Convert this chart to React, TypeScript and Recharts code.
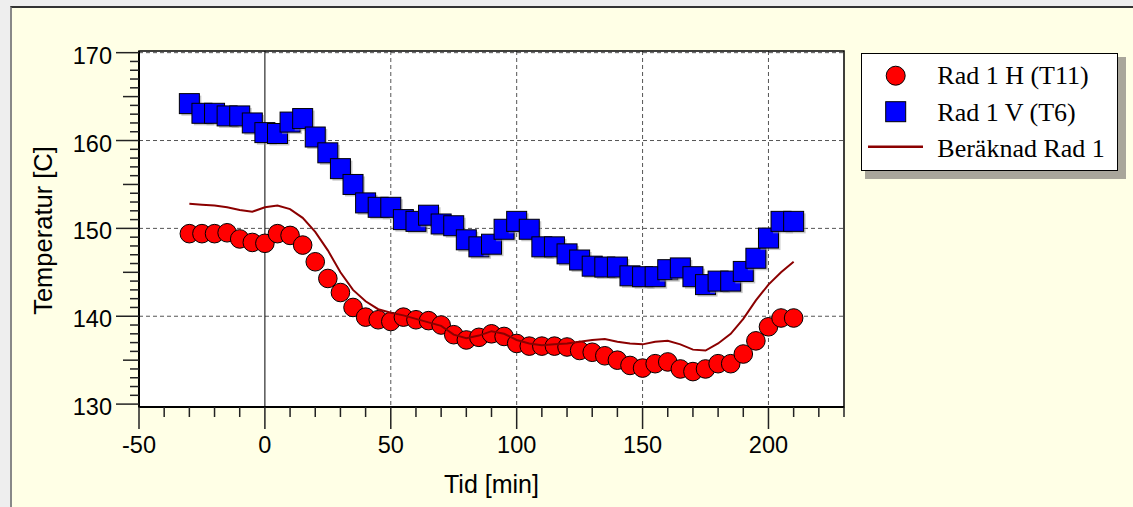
import React from 'react';
import { ComposedChart, Scatter, Line, XAxis, YAxis, CartesianGrid, ReferenceArea, Label } from 'recharts';

// sample times [min]
const times = [
  -30, -25, -20, -15, -10, -5, 0, 5, 10, 15, 20, 25, 30, 35, 40, 45, 50, 55, 60, 65, 70, 75, 80, 85, 90,
  95, 100, 105, 110, 115, 120, 125, 130, 135, 140, 145, 150, 155, 160, 165, 170, 175, 180, 185, 190, 195,
  200, 205, 210,
];

// Rad 1 H (T11)
const radH = [
  149.4, 149.4, 149.4, 149.5, 148.8, 148.4, 148.3, 149.4, 149.2, 148.1, 146.2, 144.3, 142.7, 141.0, 139.9,
  139.6, 139.4, 139.9, 139.6, 139.5, 139.0, 137.9, 137.3, 137.6, 138.0, 137.7, 136.9, 136.6, 136.6, 136.6,
  136.5, 136.1, 135.9, 135.5, 135.0, 134.4, 134.1, 134.6, 134.8, 134.0, 133.7, 134.0, 134.6, 134.6, 135.7,
  137.2, 138.8, 139.8, 139.8,
];

// Rad 1 V (T6)
const radV = [
  164.2, 163.1, 163.1, 162.8, 162.8, 162.0, 160.9, 160.8, 162.1, 162.5, 160.4, 158.6, 156.8, 155.0, 152.9,
  152.4, 152.4, 151.0, 150.8, 151.5, 150.5, 150.3, 148.7, 147.9, 148.2, 149.9, 150.8, 149.9, 147.9, 147.9,
  147.1, 146.4, 145.7, 145.6, 145.6, 144.6, 144.5, 144.5, 145.3, 145.5, 144.5, 143.6, 144.0, 144.0, 145.1,
  146.6, 148.9, 150.8, 150.8,
];

// Beräknad Rad 1
const calc = [
  152.8, 152.7, 152.6, 152.4, 152.1, 151.9, 152.4, 152.6, 152.2, 151.2, 149.6, 147.5, 145.0, 143.0, 141.7,
  140.8, 140.4, 140.1, 139.7, 139.3, 138.9, 137.9, 137.5, 137.8, 138.3, 138.0, 137.3, 136.9, 136.7, 136.8,
  136.9, 137.1, 137.3, 137.4, 137.1, 136.9, 136.8, 137.1, 137.2, 136.8, 136.2, 136.1, 136.9, 138.0, 139.7,
  141.8, 143.6, 145.0, 146.2,
];

const seriesNames = ['Rad 1 H (T11)', 'Rad 1 V (T6)', 'Beräknad Rad 1'];

const xTicks = [-50, -40, -30, -20, -10, 0, 10, 20, 30, 40, 50, 60, 70, 80, 90, 100, 110, 120, 130, 140, 150, 160, 170, 180, 190, 200, 210, 220, 230];
const xLabels = [-50, 0, 50, 100, 150, 200];
const yTicks = [
  130, 131, 132, 133, 134, 135, 136, 137, 138, 139, 140, 141, 142, 143, 144, 145, 146, 147, 148, 149, 150,
  151, 152, 153, 154, 155, 156, 157, 158, 159, 160, 161, 162, 163, 164, 165, 166, 167, 168, 169, 170,
];
const yLabels = [130, 140, 150, 160, 170];
const xDomain = [-50, 230];
const yDomain = [129.67, 170.19];

const rows = times.map((t, i) => ({ t, h: radH[i], v: radV[i], calc: calc[i] }));

const sans = '"Liberation Sans", Arial, sans-serif';
const serif = '"Liberation Serif", "Times New Roman", serif';
const RED = '#ff0000';
const BLUE = '#0000ff';
const CALC = '#8b0000';

const XTick = (props: any) => {
  const { x, y, payload } = props;
  const major = xLabels.includes(payload.value);
  return (
    <g>
      <line x1={x} x2={x} y1={y} y2={y + (major ? 22 : 10)} stroke="#222" strokeWidth={1.5} />
      {major && (
        <text x={x} y={y + 45.5} textAnchor="middle" fontFamily={sans} fontSize={23.5} fill="#000">
          {payload.value}
        </text>
      )}
    </g>
  );
};

const YTick = (props: any) => {
  const { x, y, payload } = props;
  const major = yLabels.includes(payload.value);
  const len = major ? 23 : payload.value % 5 === 0 ? 16 : 9;
  return (
    <g>
      <line x1={x - len} x2={x} y1={y} y2={y} stroke="#222" strokeWidth={1.5} />
      {major && (
        <text x={x - 27} y={y + 11} textAnchor="end" fontFamily={sans} fontSize={23.5} fill="#000">
          {payload.value}
        </text>
      )}
    </g>
  );
};

const CircleMark = (props: any) => {
  const { cx, cy } = props;
  if (cx == null || cy == null) return null;
  return <circle cx={cx} cy={cy} r={9.3} fill={RED} stroke="#000" strokeWidth={1} />;
};

const SquareMark = (props: any) => {
  const { cx, cy } = props;
  if (cx == null || cy == null) return null;
  return (
    <g>
      <rect x={cx - 8} y={cy - 8} width={20} height={20} fill="#999" opacity={0.55} />
      <rect x={cx - 10} y={cy - 10} width={20} height={20} fill={BLUE} stroke="#000" strokeWidth={1} />
    </g>
  );
};

const ChartLegend = () => (
  <div
    style={{
      position: 'absolute',
      left: 861,
      top: 53,
      width: 255,
      height: 116,
      background: '#fff',
      border: '1px solid #000',
      boxShadow: '6px 6px 0 2px #a9a69b',
    }}
  >
    <svg width={257} height={118} style={{ position: 'absolute', left: -1, top: -1, overflow: 'visible' }}>
      <circle cx={34.7} cy={22.7} r={9.5} fill={RED} stroke="#000" strokeWidth={1} />
      <rect x={24.7} y={48.7} width={20} height={20} fill={BLUE} stroke="#000" strokeWidth={1} />
      <line x1={7} x2={62} y1={93.7} y2={93.7} stroke={CALC} strokeWidth={2.5} />
      {seriesNames.map((name, i) => (
        <text key={name} x={76.3} y={31.3 + i * 36.2} fontFamily={serif} fontSize={26} fill="#000">
          {name}
        </text>
      ))}
    </svg>
  </div>
);

export default function App() {
  return (
    <div style={{ position: 'absolute', left: 0, top: 0, width: 1133, height: 507, background: '#eeeeee', overflow: 'hidden' }}>
      <div
        style={{
          position: 'absolute',
          left: 10,
          top: 6,
          width: 1140,
          height: 520,
          background: '#ffffe6',
          borderTop: '2px solid #333',
          borderLeft: '2px solid #888',
          boxSizing: 'border-box',
        }}
      />
      <div style={{ position: 'absolute', left: 0, top: 0 }}>
        <ComposedChart width={1133} height={507} data={rows} margin={{ top: 51, right: 289, bottom: 40, left: 59 }}>
          <CartesianGrid
            fill="#fff"
            stroke="#555"
            strokeDasharray="4 3"
            horizontalValues={[140, 150, 160, 170]}
            verticalValues={[50, 100, 150, 200]}
          />
          <CartesianGrid horizontal={false} verticalValues={[0]} stroke="#000" strokeWidth={1} />
          <XAxis
            type="number"
            dataKey="t"
            domain={xDomain}
            ticks={xTicks}
            interval={0}
            allowDataOverflow
            height={60}
            tickSize={0}
            tickMargin={0}
            tick={XTick}
            tickLine={false}
            axisLine={{ stroke: '#000', strokeWidth: 2 }}
          >
            <Label
              content={(p: any) => (
                <text x={p.viewBox.x + p.viewBox.width / 2} y={p.viewBox.y + 86} textAnchor="middle" fontFamily={sans} fontSize={25} fill="#000">
                  Tid [min]
                </text>
              )}
            />
          </XAxis>
          <YAxis
            type="number"
            domain={yDomain}
            ticks={yTicks}
            interval={0}
            allowDataOverflow
            width={80}
            tickSize={0}
            tickMargin={0}
            tick={YTick}
            tickLine={false}
            axisLine={{ stroke: '#000', strokeWidth: 2 }}
          >
            <Label
              content={(p: any) => {
                const cx = p.viewBox.x - 7.3;
                const cy = p.viewBox.y + p.viewBox.height / 2 + 1.5;
                return (
                  <text x={cx} y={cy} transform={`rotate(-90 ${cx} ${cy})`} textAnchor="middle" fontFamily={sans} fontSize={25.5} fill="#000">
                    Temperatur [C]
                  </text>
                );
              }}
            />
          </YAxis>
          <ReferenceArea x1={xDomain[0]} x2={xDomain[1]} y1={yDomain[0]} y2={yDomain[1]} fill="none" stroke="#000" strokeWidth={1.5} ifOverflow="visible" />
          <Scatter name={seriesNames[1]} dataKey="v" shape={SquareMark} isAnimationActive={false} />
          <Scatter name={seriesNames[0]} dataKey="h" shape={CircleMark} isAnimationActive={false} />
          <Line
            name={seriesNames[2]}
            dataKey="calc"
            type="linear"
            stroke={CALC}
            strokeWidth={2}
            dot={false}
            activeDot={false}
            isAnimationActive={false}
            zIndex={700}
          />
        </ComposedChart>
      </div>
      <ChartLegend />
    </div>
  );
}
